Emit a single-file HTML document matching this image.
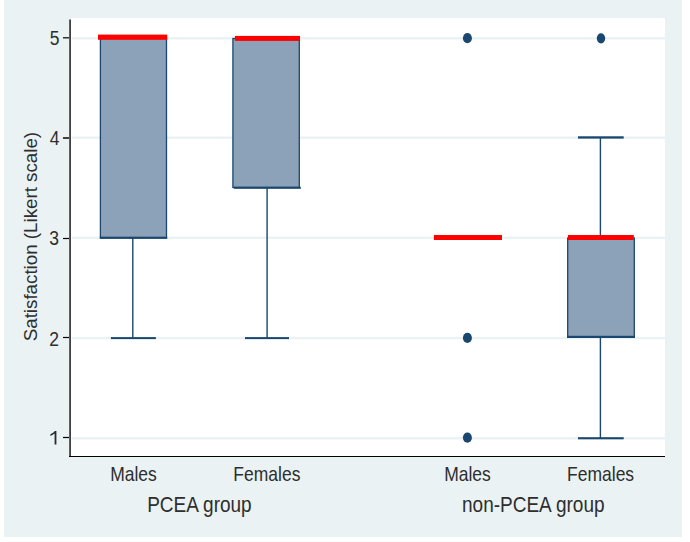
<!DOCTYPE html>
<html><head><meta charset="utf-8"><style>
html,body{margin:0;padding:0;background:#fff;}
body{width:690px;height:542px;overflow:hidden;position:relative;}
svg{position:absolute;left:0;top:0;display:block;}
text{font-family:"Liberation Sans",sans-serif;fill:#2e2e2e;}
</style></head><body>
<svg width="690" height="542" viewBox="0 0 690 542">
<!-- graph background -->
<rect x="4" y="0" width="678" height="537" fill="#eaf2f3"/>
<!-- plot region -->
<rect x="71" y="18" width="594" height="438" fill="#fff"/>
<!-- gridlines -->
<g fill="#eaf2f3">
<rect x="72" y="37.1" width="593" height="2.4"/>
<rect x="72" y="136.5" width="593" height="2.4"/>
<rect x="72" y="236.6" width="593" height="2.4"/>
<rect x="72" y="336.9" width="593" height="2.4"/>
<rect x="72" y="437.1" width="593" height="2.4"/>
</g>
<!-- axes -->
<rect x="69" y="19.5" width="1" height="437.5" fill="#5c6262"/>
<rect x="70" y="19.5" width="1" height="437.5" fill="#404040"/>
<rect x="69" y="456" width="596" height="1" fill="#000"/>
<!-- ticks -->
<g fill="#000">
<rect x="63" y="37.1" width="6" height="1.4" fill="#222"/>
<rect x="63" y="137" width="6" height="2" fill="#404040"/>
<rect x="63" y="237.9" width="6" height="1.2"/>
<rect x="63" y="336.9" width="6" height="1.2"/>
<rect x="63" y="436.9" width="6" height="1.2"/>
</g>
<!-- tick labels -->
<g font-size="17.5" text-anchor="end">
<text transform="translate(59.5,44.7) scale(1,1.14)">5</text>
<text transform="translate(59.5,144.7) scale(1,1.14)">4</text>
<text transform="translate(58.9,244.7) scale(1,1.14)">3</text>
<text transform="translate(58.9,345.6) scale(1,1.14)">2</text>
</g>
<path d="M54.6 444.6 L56.4 444.6 L56.4 431 L54.9 431 Q53.6 432.9 50.4 434.3 L50.4 436.1 Q53 435 54.6 433.6 Z" fill="#2a2a2a"/>
<!-- y title -->
<text font-size="17.5" text-anchor="middle" transform="translate(36.5,236.6) rotate(-90) scale(1.072,1.05)">Satisfaction (Likert scale)</text>

<!-- Box 1: PCEA Males -->
<g fill="#1a476f">
<rect x="132.1" y="238" width="1.4" height="100"/>
<rect x="110.9" y="337.1" width="45" height="2"/>
</g>
<rect x="100.4" y="38" width="66.1" height="199.5" fill="#8ca2b8" stroke="#1a476f" stroke-width="1.3"/>
<rect x="99.8" y="236.8" width="67.4" height="2.1" fill="#1a476f"/>
<rect x="98" y="34.6" width="69.2" height="5.2" fill="#ff0000"/>

<!-- Box 2: PCEA Females -->
<g fill="#1a476f">
<rect x="266.4" y="188" width="1.4" height="150"/>
<rect x="245" y="337.1" width="44" height="2"/>
</g>
<rect x="232.9" y="38.5" width="66.4" height="149" fill="#8ca2b8" stroke="#1a476f" stroke-width="1.3"/>
<rect x="233.8" y="186.7" width="67" height="2.1" fill="#1a476f"/>
<rect x="234.9" y="35.9" width="65.1" height="5" fill="#ff0000"/>

<!-- Group 2 Males: collapsed -->
<rect x="433.9" y="235" width="68.1" height="5" fill="#ff0000"/>
<g fill="#1a476f">
<ellipse cx="467.4" cy="38.2" rx="4.5" ry="5.1"/>
<ellipse cx="467.4" cy="337.9" rx="4.5" ry="5.1"/>
<ellipse cx="467.4" cy="437.7" rx="4.5" ry="5.1"/>
<ellipse cx="601" cy="38.3" rx="4.2" ry="5.1"/>
</g>

<!-- Box 4: non-PCEA Females -->
<g fill="#1a476f">
<rect x="599.7" y="138" width="1.4" height="300"/>
<rect x="578" y="136.3" width="45.7" height="2.3"/>
<rect x="578" y="437.2" width="45.7" height="2.1"/>
</g>
<rect x="567.7" y="238" width="66.6" height="99" fill="#8ca2b8" stroke="#1a476f" stroke-width="1.3"/>
<rect x="567" y="335.8" width="68" height="2.2" fill="#1a476f"/>
<rect x="568" y="235" width="65.8" height="5" fill="#ff0000"/>

<!-- x labels -->
<g font-size="17.5" text-anchor="middle">
<text transform="translate(133.5,481) scale(1,1.12)">Males</text>
<text transform="translate(266.9,481) scale(1,1.12)">Females</text>
<text transform="translate(467.5,481) scale(1,1.12)">Males</text>
<text transform="translate(600.6,481) scale(1,1.12)">Females</text>
</g>
<g font-size="19" text-anchor="middle">
<text transform="translate(199.4,511.6) scale(1,1.16)">PCEA group</text>
<text transform="translate(533.3,511.6) scale(1,1.16)">non-PCEA group</text>
</g>
</svg>
</body></html>
